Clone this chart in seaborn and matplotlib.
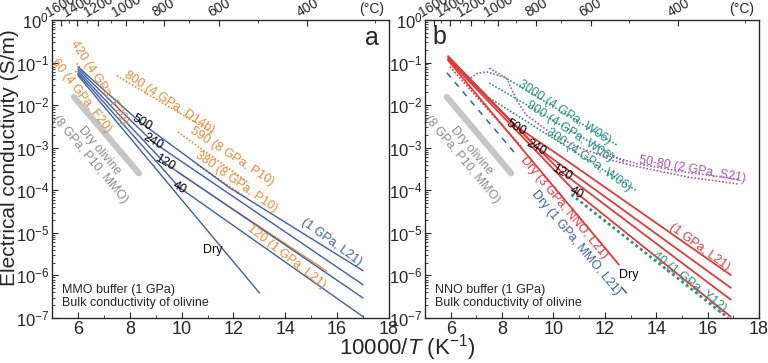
import numpy as np
import matplotlib
matplotlib.use("Agg")
import matplotlib.pyplot as plt
import seaborn as sns
from matplotlib.ticker import LogLocator, MultipleLocator, NullFormatter

sns.set_style("ticks")
plt.rcParams['font.family'] = ['Liberation Sans', 'DejaVu Sans']
plt.rcParams['mathtext.fontset'] = 'custom'
plt.rcParams['mathtext.rm'] = 'Liberation Sans'
plt.rcParams['mathtext.it'] = 'Liberation Sans:italic'
plt.rcParams['mathtext.bf'] = 'Liberation Sans:bold'

BLUE = '#3d5fa6'
ORANGE = '#e98a3c'
RED = '#de3b3b'
TEAL = '#2f8f82'
PURPLE = '#a25bb0'
GRAY = '#c6c6c6'
GRAYTXT = '#8c8c8c'

# x = 10000/T (1/K), y = log10 conductivity (S/m)
# ---- (a) MMO buffer
mmo_500_x = [6.0, 8.4, 11.85, 17.0]
mmo_500_y = [-1.10, -2.40, -3.94, -5.89]
mmo_240_x = [6.0, 8.9, 17.0]
mmo_240_y = [-1.15, -2.87, -6.22]
mmo_120_x = [6.0, 9.35, 17.0]
mmo_120_y = [-1.20, -3.36, -6.53]
mmo_40_x = [6.0, 9.92, 17.0]
mmo_40_y = [-1.25, -3.94, -6.97]
mmo_dry_x = [6.0, 13.0]
mmo_dry_y = [-1.30, -6.41]

f20_420_x = [5.95, 6.4]
f20_420_y = [-1.02, -1.35]
f20_60_x = [5.9, 6.35]
f20_60_y = [-1.20, -1.55]
d14b_800_x = [7.5, 11.2]
d14b_800_y = [-1.31, -2.65]
p10_590_x = [9.85, 12.6]
p10_590_y = [-2.63, -3.83]
p10_380_x = [10.6, 12.5]
p10_380_y = [-3.40, -4.18]
l21_120_x = [9.85, 15.6]
l21_120_y = [-3.58, -5.90]

dry_olv_x = [5.85, 8.35]
dry_olv_y = [-1.81, -3.60]

# ---- (b) NNO buffer
nno_500_x = [5.9, 8.55, 10.2, 16.9]
nno_500_y = [-0.85, -2.50, -3.17, -5.99]
nno_240_x = [5.9, 9.32, 16.9]
nno_240_y = [-0.87, -2.98, -6.29]
nno_120_x = [5.9, 10.33, 16.9]
nno_120_y = [-0.90, -3.58, -6.57]
nno_40_x = [5.9, 10.87, 16.9]
nno_40_y = [-0.93, -4.05, -6.97]
nno_dry_x = [5.9, 12.55]
nno_dry_y = [-0.95, -5.75]
nno_dry3_x = [5.97, 8.75]
nno_dry3_y = [-1.10, -2.98]
mmo_dry1_x = [5.85, 8.6]
mmo_dry1_y = [-1.24, -3.20]
mmo_dry1_tail_x = [12.65, 12.84]
mmo_dry1_tail_y = [-6.28, -6.41]

w06_3000_x = [7.5, 12.5]
w06_3000_y = [-1.13, -2.95]
w06_900_x = [7.5, 12.8]
w06_900_y = [-1.48, -3.35]
w06_300_x = [7.5, 13.2]
w06_300_y = [-1.83, -4.00]
y12_40_x = [10.7, 16.8]
y12_40_y = [-4.10, -7.00]
s21_x = [6.66, 7.05, 7.4, 8.17, 8.6, 8.94, 10.0, 11.0, 11.64, 12.22, 13.3, 15.23, 17.16]
s21_y = [-1.41, -1.25, -1.22, -1.36, -1.92, -2.23, -2.70, -3.00, -3.13, -3.29, -3.45, -3.69, -3.85]
s21_hi_x = [11.64, 12.2, 13.3, 15.2, 17.2]
s21_hi_y = [-3.13, -3.20, -3.38, -3.58, -3.74]

temps_major = [1600, 1400, 1200, 1000, 800, 600, 400]
temps_minor = list(range(300, 1700, 100))

DOT = (0, (1, 1.1))


def line(ax, xs, ys, color, lw=1.0, ls='-'):
    sns.lineplot(x=np.array(xs), y=10 ** np.array(ys, dtype=float), ax=ax,
                 color=color, lw=lw, linestyle=ls, sort=False, estimator=None)


def lab(ax, x, y, s, color='k', rot=0, size=9):
    ax.text(x, 10 ** y, s, color=color, rotation=rot, ha='center', va='center',
            rotation_mode='anchor', fontsize=size)


fig = plt.figure(figsize=(7.68, 3.63), dpi=100)
ax1 = fig.add_axes([0.0677, 0.124, 0.4388, 0.821])
ax2 = fig.add_axes([0.5534, 0.124, 0.4349, 0.821])

for ax in (ax1, ax2):
    ax.set_yscale('log')
    ax.set_xlim(5, 18)
    ax.set_ylim(1e-7, 1)
    ax.xaxis.set_major_locator(MultipleLocator(2))
    ax.xaxis.set_minor_locator(MultipleLocator(1))
    ax.yaxis.set_major_locator(LogLocator(base=10, numticks=10))
    ax.yaxis.set_minor_locator(LogLocator(base=10, subs=np.arange(2, 10), numticks=10))
    ax.yaxis.set_minor_formatter(NullFormatter())
    ax.tick_params(which='both', direction='in', top=False, right=False)
    ax.tick_params(which='major', length=4, width=0.8)
    ax.tick_params(which='minor', length=2, width=0.6)
    ax.tick_params(axis='x', labelsize=13, pad=2)
    ax.tick_params(axis='y', labelsize=12, pad=2)
    for sp in ax.spines.values():
        sp.set_linewidth(0.9)
    ax.set_xlabel('')
    ax.set_ylabel('')

    tw = ax.twiny()
    tw.set_xlim(5, 18)
    tw.set_xticks([10000 / (t + 273.15) for t in temps_major])
    tw.set_xticklabels([str(t) for t in temps_major], rotation=30, fontsize=10)
    tw.set_xticks([10000 / (t + 273.15) for t in temps_minor], minor=True)
    tw.tick_params(which='both', direction='in', pad=0)
    tw.tick_params(which='major', length=4, width=0.8)
    tw.tick_params(which='minor', length=2, width=0.6)
    ax.text(0.985, 1.012, '(°C)', transform=ax.transAxes, ha='right', va='bottom', fontsize=10)

    # dry olivine band
    line(ax, dry_olv_x, dry_olv_y, GRAY, lw=4.5)
    ax.text(6.64, 10 ** -3.17, 'Dry olivine\n(8 GPa, P10, MMO)', color=GRAYTXT, rotation=-50,
            ha='center', va='center', multialignment='center', rotation_mode='anchor',
            fontsize=9, linespacing=1.05)

# ---------------- panel a
ax = ax1
line(ax, f20_420_x, f20_420_y, ORANGE, lw=1.2, ls=DOT)
line(ax, f20_60_x, f20_60_y, ORANGE, lw=1.2, ls=DOT)
line(ax, d14b_800_x, d14b_800_y, ORANGE, lw=1.2, ls=DOT)
line(ax, p10_590_x, p10_590_y, ORANGE, lw=1.2, ls=DOT)
line(ax, p10_380_x, p10_380_y, ORANGE, lw=1.2, ls=DOT)
line(ax, l21_120_x, l21_120_y, ORANGE, lw=1.0)
for xs, ys in [(mmo_500_x, mmo_500_y), (mmo_240_x, mmo_240_y), (mmo_120_x, mmo_120_y),
               (mmo_40_x, mmo_40_y), (mmo_dry_x, mmo_dry_y)]:
    line(ax, xs, ys, BLUE, lw=1.0)

lab(ax, 6.81, -1.46, '420 (4 GPa, F20)', ORANGE, -57)
lab(ax, 6.15, -1.78, '60 (4 GPa, F20)', ORANGE, -52)
lab(ax, 9.54, -1.93, '800 (4 GPa, D14b)', ORANGE, -33)
lab(ax, 11.96, -3.21, '590 (8 GPa, P10)', ORANGE, -33)
lab(ax, 12.1, -3.80, '380 (8 GPa, P10)', ORANGE, -35)
lab(ax, 14.04, -5.56, '120 (1 GPa, L21)', ORANGE, -38)
lab(ax, 15.77, -5.21, '(1 GPa, L21)', BLUE, -36)
lab(ax, 8.46, -2.42, '500', 'k', -30)
lab(ax, 8.88, -2.86, '240', 'k', -30)
lab(ax, 9.35, -3.36, '120', 'k', -30)
lab(ax, 9.92, -3.94, '40', 'k', -30)
lab(ax, 11.19, -5.40, 'Dry', 'k', 0)
ax.text(17.35, 10 ** -0.42, 'a', fontsize=18, ha='center', va='center')
ax.text(0.03, 0.03, 'MMO buffer (1 GPa)\nBulk conductivity of olivine', transform=ax.transAxes,
        ha='left', va='bottom', fontsize=9, linespacing=1.1)

# ---------------- panel b
ax = ax2
line(ax, w06_3000_x, w06_3000_y, TEAL, lw=1.2, ls=DOT)
line(ax, w06_900_x, w06_900_y, TEAL, lw=1.2, ls=DOT)
line(ax, w06_300_x, w06_300_y, TEAL, lw=1.2, ls=DOT)
line(ax, s21_x, s21_y, PURPLE, lw=1.2, ls=DOT)
line(ax, s21_hi_x, s21_hi_y, PURPLE, lw=1.2, ls=DOT)
line(ax, mmo_dry1_x, mmo_dry1_y, BLUE, lw=1.1, ls=(0, (4, 4)))
line(ax, mmo_dry1_tail_x, mmo_dry1_tail_y, BLUE, lw=1.1)
line(ax, nno_dry3_x, nno_dry3_y, RED, lw=1.2, ls=DOT)
for xs, ys in [(nno_500_x, nno_500_y), (nno_240_x, nno_240_y), (nno_120_x, nno_120_y),
               (nno_40_x, nno_40_y), (nno_dry_x, nno_dry_y)]:
    line(ax, xs, ys, RED, lw=1.3)
line(ax, y12_40_x, y12_40_y, TEAL, lw=2.0, ls=DOT)

lab(ax, 10.41, -2.16, '3000 (4 GPa, W06)', TEAL, -33)
lab(ax, 10.64, -2.61, '900 (4 GPa, W06)', TEAL, -33)
lab(ax, 11.37, -3.29, '300 (4 GPa, W06)', TEAL, -35)
lab(ax, 15.42, -3.52, '50-80 (2 GPa, S21)', PURPLE, -10)
lab(ax, 15.7, -5.33, '(1 GPa, L21)', RED, -36)
lab(ax, 15.3, -6.15, '40 (1 GPa, Y12)', TEAL, -38)
lab(ax, 10.4, -4.41, 'Dry (3 GPa, NNO, L21)', RED, -50)
lab(ax, 10.87, -5.23, 'Dry (1 GPa, MMO, L21)', BLUE, -50)
lab(ax, 12.92, -5.99, 'Dry', 'k', 0)
lab(ax, 8.55, -2.54, '500', 'k', -30)
lab(ax, 9.32, -3.0, '240', 'k', -30)
lab(ax, 10.33, -3.59, '120', 'k', -30)
lab(ax, 10.87, -4.06, '40', 'k', -30)
ax.text(5.55, 10 ** -0.40, 'b', fontsize=18, ha='center', va='center')
ax.text(0.03, 0.03, 'NNO buffer (1 GPa)\nBulk conductivity of olivine', transform=ax.transAxes,
        ha='left', va='bottom', fontsize=9, linespacing=1.1)

fig.text(0.013, 0.565, 'Electrical conductivity (S/m)', rotation=90, ha='center', va='center',
         fontsize=15)
fig.text(0.53, 0.042, '10000/$T$ (K$^{-1}$)', ha='center', va='center', fontsize=16)

fig.savefig('out.png', dpi=100)
